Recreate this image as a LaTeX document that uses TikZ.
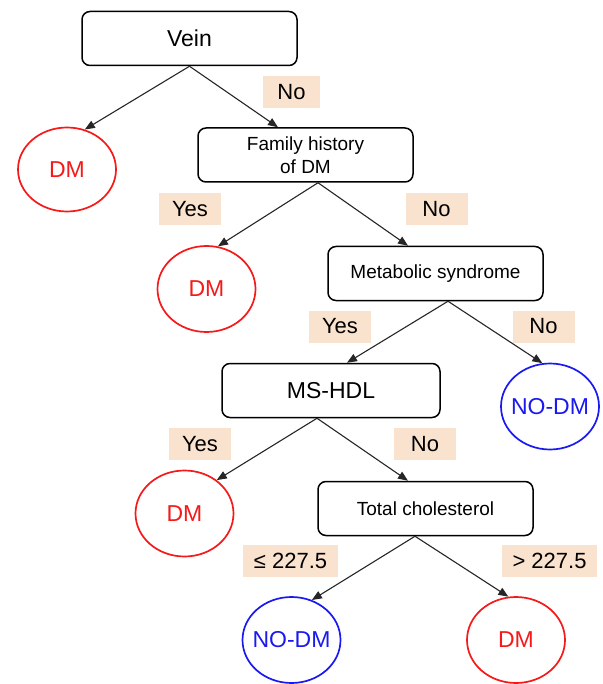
\documentclass[tikz,border=0pt]{standalone}
\usepackage{fontspec}
\setmainfont{Liberation Sans}
\usetikzlibrary{arrows.meta,shapes.geometric}
\definecolor{labelpeach}{RGB}{249,226,206}
\definecolor{dmred}{RGB}{245,25,25}
\definecolor{nodmblue}{RGB}{25,25,240}
\tikzset{
>={Triangle[length=10pt,width=8pt]},
}

\begin{document}
\begin{tikzpicture}[x=1pt, y=-1pt]
    \tikzset{
        question/.style={rectangle, rounded corners=8pt, draw=black, line width=1.5pt, minimum width=215pt, minimum height=54pt, inner sep=0pt, text centered},
        bigtext/.style={font=\fontsize{23}{25}\selectfont},
        smalltext/.style={font=\fontsize{19}{23}\selectfont, align=center},
        leaf/.style={ellipse, line width=1.7pt, minimum width=98pt, minimum height=86pt, inner sep=0pt, font=\fontsize{23}{25}\selectfont},
        dmleaf/.style={leaf, draw=dmred, text=dmred},
        nodmleaf/.style={leaf, draw=nodmblue, text=nodmblue, inner xsep=-6pt},
        answer/.style={rectangle, fill=labelpeach, minimum width=62pt, minimum height=32pt, inner sep=0pt, font=\fontsize{22}{24}\selectfont},
        myarrow/.style={draw=black!85, ->, line width=1.1pt},
    }
    \useasboundingbox (0,0) rectangle (602,684);

    \node[question, bigtext] (vein) at (189.5,38.5) {Vein};
    \node[question, smalltext] (famhist) at (305.5,155) {Family history\\of DM};
    \node[question, smalltext] (metsyn) at (435.5,273.5) {Metabolic syndrome};
    \node[question, bigtext, minimum width=218pt] (mshdl) at (331,390.5) {MS-HDL};
    \node[question, smalltext] (totchol) at (425.5,508.5) {Total cholesterol};

    \node[dmleaf, minimum height=84pt] (dm1) at (67,169.5) {DM};
    \node[dmleaf] (dm2) at (206.5,289) {DM};
    \node[nodmleaf] (nodm1) at (550,406.5) {NO-DM};
    \node[dmleaf] (dm3) at (184.5,513.5) {DM};
    \node[nodmleaf] (nodm2) at (291.5,640) {NO-DM};
    \node[dmleaf] (dm4) at (516,640) {DM};

    \node[answer, minimum width=57pt] (ans1) at (291.5,92) {No};
    \node[answer] (ans2) at (190,209) {Yes};
    \node[answer] (ans3) at (436.5,209) {No};
    \node[answer] (ans4) at (340,326.5) {Yes};
    \node[answer] (ans5) at (543.5,326.5) {No};
    \node[answer] (ans6) at (200,444) {Yes};
    \node[answer] (ans7) at (425,444) {No};
    \node[answer, minimum width=95pt] (ans8) at (290.5,561) {≤ 227.5};
    \node[answer, minimum width=95pt] (ans9) at (549.5,561) {> 227.5};

    \path[myarrow] (vein.south) -- (dm1.66);
    \path[myarrow] (vein.south) -- ([xshift=-27.5pt]famhist.north);
    \path[myarrow] ([xshift=12.5pt]famhist.south) -- (dm2.75);
    \path[myarrow] ([xshift=12.5pt]famhist.south) -- ([xshift=-27.5pt]metsyn.north);
    \path[myarrow] ([xshift=12.5pt]metsyn.south) -- ([xshift=16pt]mshdl.north);
    \path[myarrow] ([xshift=12.5pt]metsyn.south) -- (nodm1.100);
    \path[myarrow] ([xshift=-14pt]mshdl.south) -- (dm3.46);
    \path[myarrow] ([xshift=-14pt]mshdl.south) -- ([xshift=-17.5pt]totchol.north);
    \path[myarrow] ([xshift=-10.5pt]totchol.south) -- (nodm2.63);
    \path[myarrow] ([xshift=-10.5pt]totchol.south) -- (dm4.100);

    \end{tikzpicture}
\end{document}
